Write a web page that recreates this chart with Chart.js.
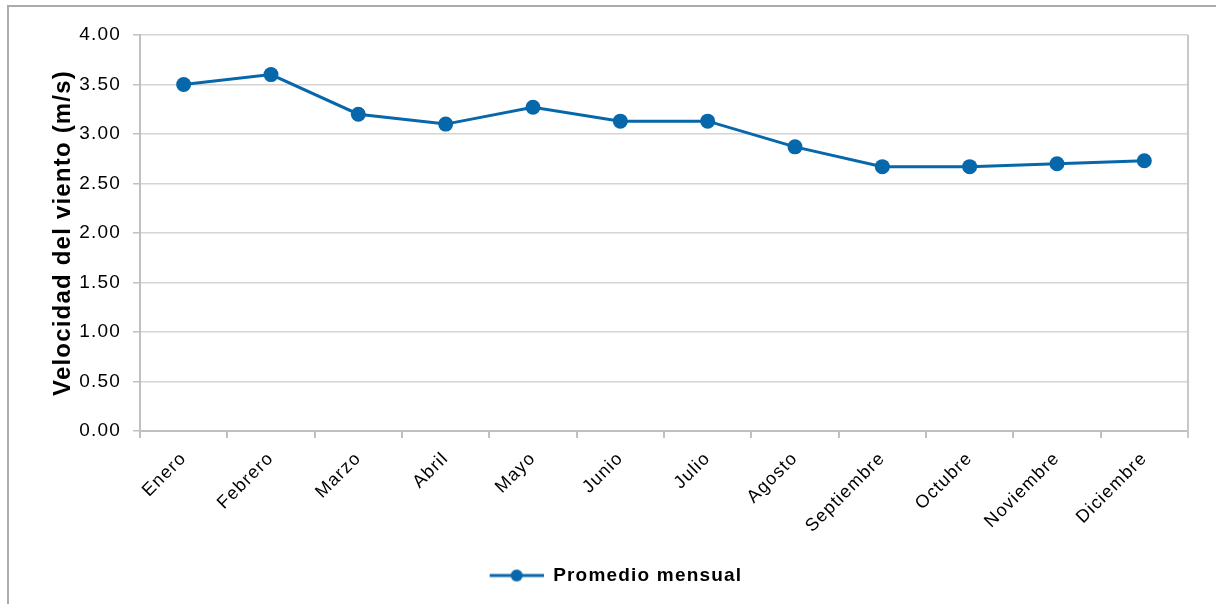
<!DOCTYPE html>
<html>
<head>
<meta charset="utf-8">
<script src="https://cdn.jsdelivr.net/npm/chart.js@4/dist/chart.umd.min.js"></script>
<style>
  html, body { margin: 0; padding: 0; background: #fff; }
  #wrap { width: 1216px; height: 604px; position: relative; }
</style>
</head>
<body>
<div id="wrap"><canvas id="c" width="1216" height="604"></canvas></div>
<script>
// Monthly mean wind speed
const meses = ['Enero', 'Febrero', 'Marzo', 'Abril', 'Mayo', 'Junio', 'Julio',
  'Agosto', 'Septiembre', 'Octubre', 'Noviembre', 'Diciembre'];
const promedioMensual = [3.50, 3.60, 3.20, 3.10, 3.27, 3.13, 3.13, 2.87, 2.67, 2.67, 2.70, 2.73];
const serieNombre = 'Promedio mensual';
const ejeYTitulo = 'Velocidad del viento (m/s)';
const yMin = 0, yMax = 4, yPaso = 0.5;

const AZUL = '#0767AB';
const FONT = "'Liberation Sans', Arial, sans-serif";
const SPACING = '1.2px';

// Legend marker: line with a dot in the middle (left margin keeps the
// legend block slightly right of centre)
function legendMarker() {
  const lead = 36, len = 54;
  const c = document.createElement('canvas');
  c.width = lead + len; c.height = 14;
  const g = c.getContext('2d');
  g.strokeStyle = AZUL; g.lineWidth = 3;
  g.beginPath(); g.moveTo(lead, 7); g.lineTo(lead + len, 7); g.stroke();
  g.fillStyle = AZUL;
  g.beginPath(); g.arc(lead + len / 2, 7, 6, 0, Math.PI * 2); g.fill();
  return c;
}
const marker = legendMarker();

// Slightly wider text setting for all labels
const spacingPlugin = {
  id: 'spacing',
  beforeLayout(chart) { chart.ctx.letterSpacing = SPACING; },
  beforeDraw(chart) { chart.ctx.letterSpacing = SPACING; }
};

// Outer frame and right edge of plot area
const framePlugin = {
  id: 'frame',
  beforeDraw(chart) {
    const ctx = chart.ctx;
    ctx.save();
    ctx.strokeStyle = '#ababab';
    ctx.lineWidth = 2;
    ctx.beginPath();
    ctx.moveTo(8, 700);
    ctx.lineTo(8, 6);
    ctx.lineTo(1300, 6);
    ctx.stroke();
    ctx.restore();
  },
  beforeDatasetsDraw(chart) {
    const a = chart.chartArea, ctx = chart.ctx;
    ctx.save();
    ctx.strokeStyle = '#c8c8c8';
    ctx.lineWidth = 2;
    ctx.beginPath();
    ctx.moveTo(a.right, a.top);
    ctx.lineTo(a.right, a.bottom + 7);
    ctx.stroke();
    ctx.restore();
  }
};

const PLOT_BOTTOM = 431;
const PAD_BOTTOM = 9;

new Chart(document.getElementById('c'), {
  type: 'line',
  data: {
    labels: meses,
    datasets: [{
      label: serieNombre,
      data: promedioMensual,
      borderColor: AZUL,
      backgroundColor: AZUL,
      borderWidth: 3,
      pointRadius: 7.5,
      pointHoverRadius: 7.5,
      pointBackgroundColor: AZUL,
      pointBorderWidth: 0,
      tension: 0
    }]
  },
  options: {
    responsive: false,
    animation: false,
    devicePixelRatio: 1,
    layout: { padding: { left: 8, top: 35, right: 28, bottom: PAD_BOTTOM } },
    plugins: {
      tooltip: { enabled: false },
      legend: {
        position: 'bottom',
        labels: {
          usePointStyle: true,
          pointStyleWidth: 90,
          boxHeight: 14,
          padding: 14,
          color: '#000',
          font: { family: FONT, size: 19, weight: 'bold' },
          generateLabels(chart) {
            const items = Chart.defaults.plugins.legend.labels.generateLabels(chart);
            items.forEach(it => { it.pointStyle = marker; });
            return items;
          }
        }
      }
    },
    scales: {
      x: {
        type: 'category',
        offset: true,
        grid: {
          offset: true,
          drawOnChartArea: false,
          drawTicks: true,
          tickLength: 7,
          tickColor: '#c0c0c0',
          lineWidth: 2
        },
        border: { color: '#c0c0c0', width: 2 },
        ticks: {
          minRotation: 45,
          maxRotation: 45,
          padding: 10,
          color: '#000',
          font: { family: FONT, size: 18 }
        },
        afterFit(scale) {
          const lg = scale.chart.legend;
          const lh = lg ? lg.height : 0;
          scale.height = scale.chart.height - PAD_BOTTOM - lh - PLOT_BOTTOM;
        }
      },
      y: {
        min: yMin,
        max: yMax,
        ticks: {
          stepSize: yPaso,
          padding: 12,
          color: '#000',
          font: { family: FONT, size: 19 },
          callback: v => Number(v).toFixed(2)
        },
        grid: {
          color: '#d4d4d4',
          lineWidth: 1.5,
          tickLength: 7,
          tickColor: '#c0c0c0'
        },
        border: { color: '#c0c0c0', width: 2 },
        title: {
          display: true,
          text: ejeYTitulo,
          color: '#000',
          font: { family: FONT, size: 24, weight: 'bold' },
          padding: { top: 41, bottom: 0 }
        },
        afterFit(scale) { scale.width = 132; }
      }
    }
  },
  plugins: [spacingPlugin, framePlugin]
});
</script>
</body>
</html>
